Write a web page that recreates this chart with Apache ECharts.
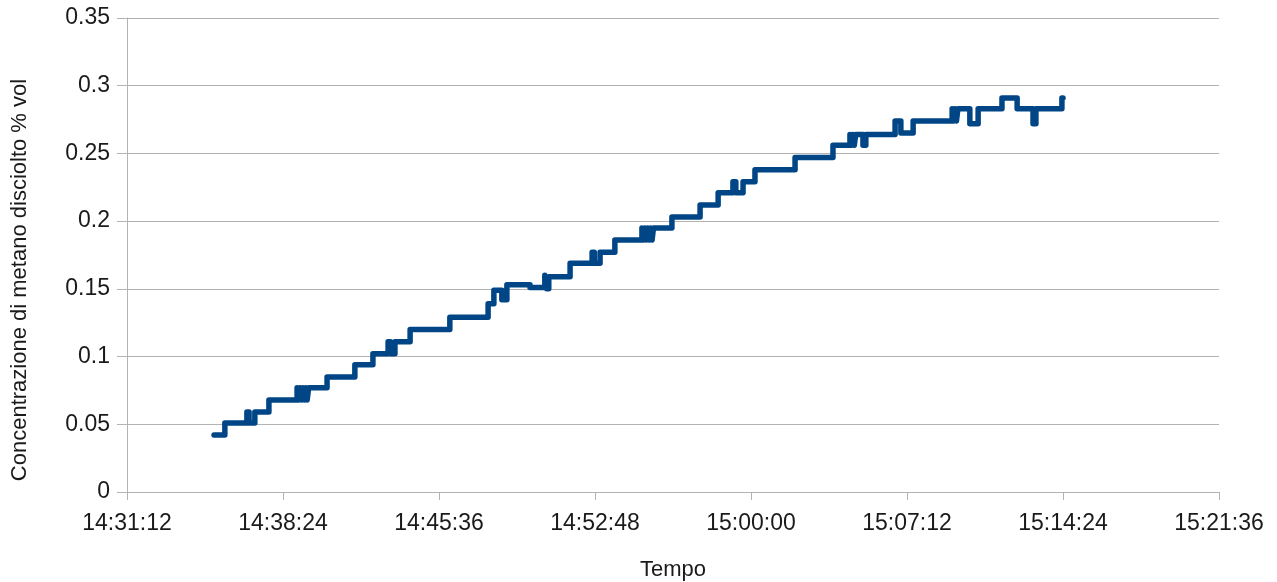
<!DOCTYPE html>
<html>
<head>
<meta charset="utf-8">
<script src="https://cdn.jsdelivr.net/npm/echarts@6/dist/echarts.min.js"></script>
<style>
  html, body { margin: 0; padding: 0; background: #ffffff; }
  #chart { width: 1277px; height: 582px; }
</style>
</head>
<body>
<div id="chart"></div>
<script>
// Dissolved methane readings: each entry is the time at which the reading changed
const times = [
  '14:35:13', '14:35:43', '14:36:44', '14:36:50', '14:37:06', '14:37:45',
  '14:39:03', '14:39:07', '14:39:11', '14:39:15', '14:39:19', '14:39:23', '14:39:27', '14:39:31', '14:39:35', '14:39:39',
  '14:40:26', '14:41:43', '14:42:33', '14:43:15', '14:43:22', '14:43:34', '14:44:16', '14:46:06',
  '14:47:52', '14:48:08', '14:48:30', '14:48:44', '14:49:48', '14:50:29', '14:50:34', '14:50:40',
  '14:51:39', '14:52:40', '14:52:46', '14:53:02', '14:53:43',
  '14:54:58', '14:55:02', '14:55:06', '14:55:10', '14:55:14', '14:55:18', '14:55:22', '14:55:26', '14:55:30', '14:55:34',
  '14:56:21', '14:57:39', '14:58:29', '14:59:10', '14:59:18', '14:59:38', '15:00:11', '15:02:02', '15:03:47',
  '15:04:34', '15:04:38', '15:04:42', '15:04:46', '15:04:50', '15:04:54', '15:05:10', '15:05:18',
  '15:06:39', '15:06:55', '15:07:29',
  '15:09:17', '15:09:21', '15:09:25', '15:09:29', '15:09:33', '15:09:39',
  '15:10:06', '15:10:29', '15:11:35', '15:12:17', '15:13:01', '15:13:09', '15:14:21', '15:14:24'
];
const methane = [
  0.042, 0.051, 0.059, 0.051, 0.059, 0.068,
  0.077, 0.068, 0.077, 0.068, 0.077, 0.068, 0.077, 0.068, 0.077, 0.077,
  0.085, 0.094, 0.102, 0.111, 0.102, 0.111, 0.120, 0.129,
  0.139, 0.149, 0.142, 0.153, 0.151, 0.160, 0.150, 0.159,
  0.169, 0.177, 0.169, 0.177, 0.186,
  0.195, 0.186, 0.195, 0.186, 0.195, 0.186, 0.195, 0.186, 0.195, 0.195,
  0.203, 0.212, 0.221, 0.229, 0.221, 0.229, 0.238, 0.247, 0.256,
  0.264, 0.256, 0.264, 0.256, 0.264, 0.264, 0.256, 0.264,
  0.274, 0.265, 0.274,
  0.283, 0.274, 0.283, 0.274, 0.283, 0.283,
  0.272, 0.283, 0.291, 0.283, 0.272, 0.283, 0.291, 0.291
];

// Time axis: 14:31:12 to 15:21:36, one tick every 7 min 12 s
const timeMin = '14:31:12';
const timeMax = '15:21:36';
const timeStep = 432;
// Concentration axis
const yMin = 0, yMax = 0.35, yStep = 0.05;

function toSeconds(s) {
  const p = s.split(':').map(Number);
  return p[0] * 3600 + p[1] * 60 + p[2];
}
function pad(n) { return (n < 10 ? '0' : '') + n; }
function toClock(sec) {
  sec = Math.round(sec);
  return pad(Math.floor(sec / 3600)) + ':' + pad(Math.floor(sec / 60) % 60) + ':' + pad(sec % 60);
}

const seriesData = times.map((t, i) => [toSeconds(t), methane[i]]);

const chart = echarts.init(document.getElementById('chart'), null, { renderer: 'canvas' });
const font = 'Liberation Sans';
const grey = '#b3b3b3';
const ink = '#1a1a1a';

chart.setOption({
  animation: false,
  backgroundColor: '#ffffff',
  grid: { left: 127, right: 58, top: 18, bottom: 90, containLabel: false, outerBoundsMode: 'none' },
  xAxis: {
    type: 'value',
    min: toSeconds(timeMin),
    max: toSeconds(timeMax),
    interval: timeStep,
    name: 'Tempo',
    nameLocation: 'middle',
    nameGap: 67,
    nameTextStyle: { fontFamily: font, fontSize: 22, color: ink },
    axisLine: { show: true, lineStyle: { color: grey, width: 1 } },
    axisTick: { show: true, inside: false, length: 8, lineStyle: { color: grey } },
    axisLabel: {
      fontFamily: font, fontSize: 23, color: ink, margin: 20,
      formatter: v => toClock(v)
    },
    splitLine: { show: false }
  },
  yAxis: {
    type: 'value',
    min: yMin,
    max: yMax,
    interval: yStep,
    name: 'Concentrazione di metano disciolto % vol',
    nameLocation: 'middle',
    nameGap: 96,
    nameRotate: 90,
    nameTextStyle: { fontFamily: font, fontSize: 22, color: ink, padding: [0, 50, 0, 0] },
    axisLine: { show: true, lineStyle: { color: grey, width: 1 } },
    axisTick: { show: true, inside: false, length: 10, lineStyle: { color: grey } },
    axisLabel: { fontFamily: font, fontSize: 23, color: ink, margin: 17 },
    splitLine: { show: true, lineStyle: { color: grey, width: 1 } }
  },
  series: [{
    type: 'line',
    step: 'end',
    data: seriesData,
    showSymbol: false,
    symbol: 'none',
    lineStyle: { color: '#004586', width: 5.5, join: 'round', cap: 'round' },
    itemStyle: { color: '#004586' }
  }]
});
</script>
</body>
</html>
